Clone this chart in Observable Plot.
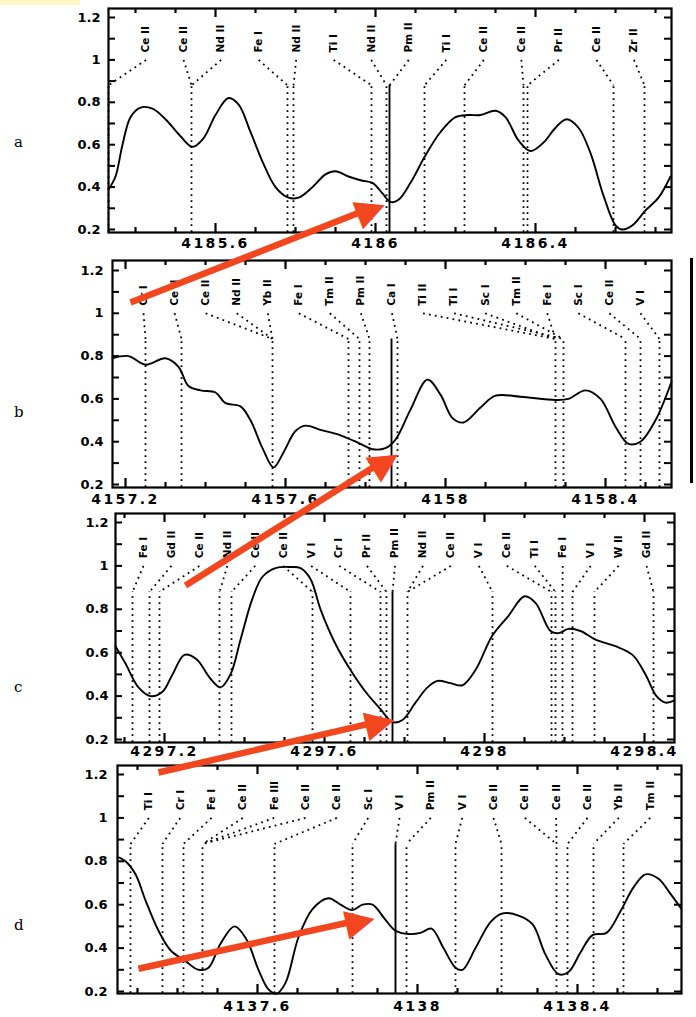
<!DOCTYPE html>
<html><head><meta charset="utf-8">
<script src="https://cdn.jsdelivr.net/npm/d3@7"></script>
<script src="https://cdn.jsdelivr.net/npm/@observablehq/plot@0.6"></script>
<style>
body{margin:0;background:#fff;}
#root{position:relative;width:696px;height:1017px;overflow:hidden;background:#fff;}
.letter{position:absolute;font-family:"DejaVu Serif",serif;font-size:15px;color:#000;}
#root svg [aria-label^="x-axis"] text{letter-spacing:2.4px;font-size:14px;}
</style></head><body><div id="root"></div><script>
// ---------- DATA ----------
const yTickLabels = [0.2, 0.4, 0.6, 0.8, 1, 1.2];

// Panel a
const aTicks = [4185.6, 4186, 4186.4];
const aWave = [4185.333,4185.35,4185.3675,4185.3875,4185.4125,4185.4425,4185.475,4185.5125,4185.5425,4185.57,4185.6,4185.6325,4185.6575,4185.6875,4185.7175,4185.75,4185.7825,4185.8075,4185.8425,4185.875,4185.9,4185.9325,4185.9675,4185.9925,4186.0175,4186.0375,4186.0575,4186.0875,4186.125,4186.1625,4186.2,4186.2325,4186.2625,4186.3,4186.325,4186.3575,4186.3875,4186.42,4186.45,4186.4775,4186.5075,4186.5375,4186.57,4186.6,4186.6175,4186.6425,4186.675,4186.7075,4186.7375];
const aFlux = [0.39,0.45,0.60,0.73,0.775,0.77,0.72,0.64,0.59,0.63,0.74,0.82,0.79,0.66,0.52,0.40,0.35,0.35,0.40,0.46,0.475,0.45,0.43,0.42,0.37,0.33,0.34,0.42,0.55,0.66,0.73,0.74,0.74,0.76,0.73,0.62,0.57,0.61,0.68,0.72,0.68,0.56,0.36,0.22,0.20,0.22,0.29,0.35,0.45];
const aLabels = ["Ce II","Ce II","Nd II","Fe I","Nd II","Ti I","Nd II","Pm II","Ti I","Ce II","Ce II","Pr II","Ce II","Zr II"];
const aLineWave = [4185.3325,4185.54,4185.54,4185.78,4185.795,4185.99,4186.0275,4186.035,4186.1225,4186.2225,4186.37,4186.38,4186.595,4186.6725];
const aSolid = 4186.035;

// Panel b
const bTicks = [4157.2, 4157.6, 4158, 4158.4];
const bWave = [4157.1675,4157.2075,4157.25,4157.30,4157.3325,4157.3575,4157.3875,4157.425,4157.45,4157.4875,4157.5125,4157.5425,4157.57,4157.595,4157.625,4157.65,4157.6875,4157.7375,4157.7875,4157.8175,4157.85,4157.875,4157.9125,4157.955,4157.9875,4158.0175,4158.045,4158.0875,4158.125,4158.1875,4158.275,4158.3075,4158.35,4158.3875,4158.425,4158.4575,4158.4875,4158.525,4158.565];
const bFlux = [0.79,0.80,0.76,0.79,0.75,0.66,0.64,0.63,0.58,0.565,0.50,0.37,0.28,0.35,0.45,0.475,0.455,0.43,0.39,0.365,0.37,0.41,0.55,0.69,0.62,0.51,0.49,0.56,0.615,0.61,0.595,0.60,0.64,0.60,0.47,0.39,0.40,0.50,0.68];
const bLabels = ["Cr I","Ce II","Ce II","Nd II","Yb II","Fe I","Tm II","Pm II","Ca I","Ti II","Ti I","Sc I","Tm II","Fe I","Sc I","Ce II","V I"];
const bLineWave = [4157.25,4157.34,4157.5675,4157.5675,4157.5675,4157.7575,4157.785,4157.81,4157.88,4158.275,4158.295,4158.275,4158.295,4158.275,4158.45,4158.4875,4158.535];
const bSolid = 4157.865;

// Panel c
const cTicks = [4297.2, 4297.6, 4298, 4298.4];
const cWave = [4297.0775,4297.1025,4297.135,4297.165,4297.195,4297.22,4297.25,4297.28,4297.315,4297.34,4297.365,4297.39,4297.42,4297.445,4297.4775,4297.515,4297.54,4297.565,4297.59,4297.6275,4297.665,4297.7025,4297.74,4297.77,4297.795,4297.8275,4297.8575,4297.8825,4297.915,4297.945,4297.9775,4298.02,4298.06,4298.1,4298.1275,4298.165,4298.185,4298.21,4298.24,4298.2775,4298.3275,4298.37,4298.4025,4298.43,4298.4525,4298.475];
const cFlux = [0.63,0.55,0.44,0.40,0.42,0.50,0.59,0.57,0.48,0.44,0.50,0.66,0.85,0.95,0.99,0.995,0.99,0.94,0.80,0.64,0.52,0.42,0.34,0.28,0.29,0.37,0.44,0.47,0.46,0.45,0.52,0.68,0.77,0.86,0.83,0.70,0.69,0.71,0.70,0.66,0.63,0.59,0.50,0.40,0.37,0.38];
const cLabels = ["Fe I","Gd II","Ce II","Nd II","Ce II","Ce II","V I","Cr I","Pr II","Pm II","Nd II","Ce II","V I","Ce II","Ti I","Fe I","V I","W II","Gd II"];
const cLineWave = [4297.12,4297.1625,4297.1875,4297.3375,4297.3675,4297.57,4297.665,4297.74,4297.755,4297.77,4297.8075,4297.8075,4298.02,4298.1675,4298.1775,4298.195,4298.22,4298.275,4298.4225];
const cSolid = 4297.77;

// Panel d
const dTicks = [4137.6, 4138, 4138.4];
const dWave = [4137.25,4137.27,4137.295,4137.32,4137.3525,4137.3825,4137.42,4137.4525,4137.4775,4137.5075,4137.5425,4137.5725,4137.6025,4137.6275,4137.6475,4137.67,4137.7025,4137.7375,4137.7775,4137.8075,4137.8375,4137.8625,4137.8875,4137.92,4137.945,4137.9775,4138.0075,4138.035,4138.065,4138.095,4138.1125,4138.145,4138.1825,4138.2125,4138.2525,4138.2875,4138.32,4138.3525,4138.3775,4138.4075,4138.4375,4138.4725,4138.5075,4138.54,4138.57,4138.6025,4138.6325,4138.66];
const dFlux = [0.82,0.80,0.74,0.62,0.48,0.39,0.34,0.30,0.31,0.42,0.50,0.44,0.30,0.21,0.19,0.24,0.45,0.58,0.63,0.60,0.575,0.60,0.60,0.53,0.48,0.465,0.47,0.49,0.40,0.31,0.30,0.40,0.52,0.56,0.55,0.51,0.37,0.28,0.29,0.38,0.46,0.47,0.57,0.68,0.74,0.72,0.65,0.58];
const dLabels = ["Ti I","Cr I","Fe I","Ce II","Fe III","Ce II","Ce II","Sc I","V I","Pm II","V I","Ce II","Ce II","Ce II","Ce II","Yb II","Tm II"];
const dLineWave = [4137.2825,4137.3625,4137.415,4137.4625,4137.4625,4137.4625,4137.6425,4137.8375,4137.945,4137.9725,4138.095,4138.21,4138.3475,4138.3475,4138.375,4138.44,4138.515];
const dSolid = 4137.945;

// Red arrows (tail / tip, in each panel's wavelength & flux units)
const arrowTailWave = [4185.3875, 4157.35, 4297.185, 4137.3025];
const arrowTailFlux = [-0.144, -0.272, 0.048, 0.305];
const arrowTipWave  = [4186.0175, 4157.875, 4297.77, 4137.8875];
const arrowTipFlux  = [0.3226, 0.345, 0.297, 0.5425];

// ---------- LAYOUT ----------
const RED = "#f2461f";
const PX_PER_A = 400;
const layout = [
  {letter:"a", left:108, right:671, top:8,   bottom:232, y02:229, y12:17,  tick0px:215, padX:6, padY:8,  letterY:133},
  {letter:"b", left:112, right:671, top:260, bottom:487, y02:484, y12:270, tick0px:125, padX:7, padY:9,  letterY:403},
  {letter:"c", left:115, right:674, top:513, bottom:742, y02:739, y12:522, tick0px:164, padX:4, padY:7,  letterY:678},
  {letter:"d", left:117, right:681, top:765, bottom:993, y02:991, y12:774, tick0px:257, padX:8, padY:10, letterY:916}
];
const panels = [
  {ticks:aTicks, wave:aWave, flux:aFlux, labels:aLabels, lines:aLineWave, solid:aSolid},
  {ticks:bTicks, wave:bWave, flux:bFlux, labels:bLabels, lines:bLineWave, solid:bSolid},
  {ticks:cTicks, wave:cWave, flux:cFlux, labels:cLabels, lines:cLineWave, solid:cSolid},
  {ticks:dTicks, wave:dWave, flux:dFlux, labels:dLabels, lines:dLineWave, solid:dSolid}
];

const root = document.getElementById("root");
const MT = 8, MB = 30;
const TOPLINE = 0.88, CONN_TOP = 1.0, LABEL_Y = 1.035;

panels.forEach((p, k) => {
  const L = layout[k];
  const xL = p.ticks[0] - (L.tick0px - L.left) / PX_PER_A;
  const xR = p.ticks[0] + (L.right - L.tick0px) / PX_PER_A;
  const unit = L.y02 - L.y12;
  const yTop = 1.2 + (L.y12 - L.top) / unit;
  const yBot = 0.2 - (L.bottom - L.y02) / unit;
  const n = p.labels.length;
  const slot = i => xL + (i + 1) * (xR - xL) / (n + 1);

  const xMinor = d3.range(Math.ceil(xL * 10 - 1e-6), Math.floor(xR * 10 + 1e-6) + 1);
  const tickLen = k10 => (k10 % 4 === 0 ? 9 : 5);
  const yMinor = d3.range(2, 13);

  const uniq = Array.from(new Set(p.lines)).filter(w => Math.abs(w - p.solid) > 1e-6);
  const curve = p.wave.map((w, i) => ({w, f: p.flux[i]}));

  // arrow geometry
  const t = {x: arrowTailWave[k], y: arrowTailFlux[k]};
  const h = {x: arrowTipWave[k], y: arrowTipFlux[k]};
  const dxp = (h.x - t.x) * PX_PER_A, dyp = -(h.y - t.y) * unit;
  const len = Math.hypot(dxp, dyp), ux = dxp / len, uy = dyp / len;
  const back = (d) => ({x: h.x - d * ux / PX_PER_A, y: h.y + d * uy / unit});
  const shaftEnd = back(20);
  const headC = back(13);
  const angle = Math.atan2(dyp, dxp) * 180 / Math.PI;

  const dash = "1.8,4.2";
  const chart = Plot.plot({
    width: 696,
    height: MT + (L.bottom - L.top) + MB,
    marginLeft: L.left, marginRight: 696 - L.right, marginTop: MT, marginBottom: MB,
    x: {domain: [xL, xR], ticks: p.ticks, tickSize: 0, tickPadding: L.padX, tickFormat: d => String(d), label: null},
    y: {domain: [yBot, yTop], ticks: yTickLabels, tickSize: 0, tickPadding: L.padY, tickFormat: d => String(d), label: null},
    style: {background: "transparent", overflow: "visible", fontFamily: "DejaVu Sans, sans-serif", fontSize: "13px", fontWeight: "bold", color: "black"},
    marks: [
      Plot.ruleX(uniq, {x: d => d, y1: yBot, y2: TOPLINE, stroke: "black", strokeWidth: 1.8, strokeDasharray: dash}),
      Plot.link(p.labels, {x1: (d, i) => slot(i), y1: CONN_TOP, x2: (d, i) => p.lines[i], y2: TOPLINE, stroke: "black", strokeWidth: 1.8, strokeDasharray: dash}),
      Plot.ruleX([p.solid], {x: d => d, y1: yBot, y2: TOPLINE, stroke: "black", strokeWidth: 1.9}),
      Plot.text(p.labels, {x: (d, i) => slot(i), y: LABEL_Y, text: d => d, rotate: -90, textAnchor: "start", fontSize: 10.5, fontWeight: "bold", fill: "black"}),
      Plot.line(curve, {x: "w", y: "f", curve: "catmull-rom", stroke: "black", strokeWidth: 1.9}),
      Plot.ruleX(xMinor, {x: d => d / 10, y1: yBot, y2: d => yBot + tickLen(d) / unit, stroke: "black", strokeWidth: 2.2}),
      Plot.ruleX(xMinor, {x: d => d / 10, y1: yTop, y2: d => yTop - tickLen(d) / unit, stroke: "black", strokeWidth: 2.2}),
      Plot.ruleY(yMinor, {y: d => d / 10, x1: xL, x2: xL + 7 / PX_PER_A, stroke: "black", strokeWidth: 2}),
      Plot.ruleY(yMinor, {y: d => d / 10, x1: xR, x2: xR - 7 / PX_PER_A, stroke: "black", strokeWidth: 2}),
      Plot.frame({stroke: "black", strokeWidth: 2.2}),
      Plot.link([0], {x1: t.x, y1: t.y, x2: shaftEnd.x, y2: shaftEnd.y, stroke: RED, strokeWidth: 6.5}),
      Plot.text([0], {x: headC.x, y: headC.y, text: () => "\u25B6", rotate: angle, fontSize: 38, fill: RED, fontFamily: "DejaVu Sans", fontWeight: "normal"})
    ]
  });
  chart.style.position = "absolute";
  chart.style.left = "0px";
  chart.style.top = (L.top - MT) + "px";
  chart.style.zIndex = String(10 - k);
  root.appendChild(chart);

  const lt = document.createElement("div");
  lt.className = "letter";
  lt.textContent = L.letter;
  lt.style.left = "14px";
  lt.style.top = L.letterY + "px";
  root.appendChild(lt);
});

const yel = document.createElement("div");
Object.assign(yel.style, {position: "absolute", left: "0px", top: "0px", width: "80px", height: "5px", background: "#fff8c6"});
root.appendChild(yel);
const bar = document.createElement("div");
Object.assign(bar.style, {position: "absolute", left: "690px", top: "258px", width: "3px", height: "225px", background: "#000"});
root.appendChild(bar);
</script></body></html>
